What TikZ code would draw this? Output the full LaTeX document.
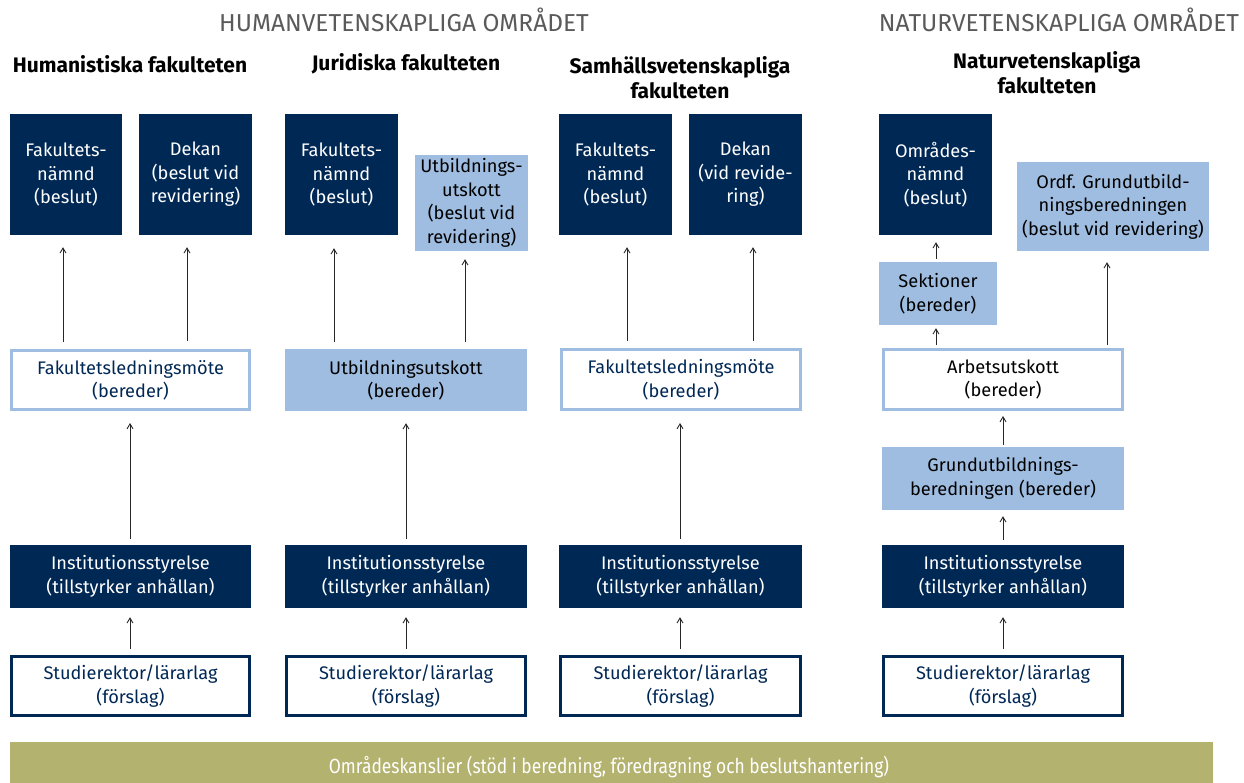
\documentclass[tikz,border=0pt]{standalone}
\usepackage{fontspec}
\setmainfont{Fira Sans}
\newfontfamily\condfont[FakeStretch=0.85]{Fira Sans}
\usetikzlibrary{arrows.meta}
\definecolor{navy}{RGB}{0,40,85}
\definecolor{lblue}{RGB}{159,189,224}
\definecolor{olive}{RGB}{179,178,111}
\definecolor{hgray}{RGB}{90,90,90}
\begin{document}
\begin{tikzpicture}[x=1pt,y=-1pt,
  box/.style={inner sep=0pt, align=center, font=\fontsize{18.2}{23.5}\selectfont},
  dk/.style={box, fill=navy, text=white},
  lb/.style={box, fill=lblue, text=black},
  wl/.style={box, draw=lblue, line width=2.6pt, fill=white, text=navy},
  wn/.style={box, draw=navy, line width=2.6pt, fill=white, text=navy},
  arr/.style={-{Straight Barb[length=5pt,width=6pt]}, line width=0.9pt, draw=black!85},
  area/.style={text=hgray, font=\fontsize{24.5}{28}\selectfont, anchor=base},
  fac/.style={text=black, font=\bfseries\fontsize{21}{25}\selectfont, align=center},
  foot/.style={fill=olive, inner sep=0pt}
]
\useasboundingbox (0,0) rectangle (1244,783);

% headers
\node[area] (hum) at (404,32) {HUMANVETENSKAPLIGA OMRÅDET};
\node[area] (nat) at (1059,32) {NATURVETENSKAPLIGA OMRÅDET};
\node[fac] (t1) at (130,64) {Humanistiska fakulteten};
\node[fac] (t2) at (406,64) {Juridiska fakulteten};
\node[fac] (t3) at (680,78) {Samhällsvetenskapliga\\fakulteten};
\node[fac] (t4) at (1047,73) {Naturvetenskapliga\\fakulteten};

% column 1
\node[dk, minimum width=112pt, minimum height=121pt] (fn1) at (66,174.5) {Fakultets-\\nämnd\\(beslut)};
\node[dk, minimum width=113pt, minimum height=121pt] (dk1) at (195.5,174.5) {Dekan\\(beslut vid\\revidering)};
\node[wl, minimum width=238.4pt, minimum height=59.4pt] (fl1) at (130.5,380) {Fakultetsledningsmöte\\(bereder)};
\node[dk, minimum width=241pt, minimum height=63pt] (is1) at (130.5,576.5) {Institutionsstyrelse\\(tillstyrker anhållan)};
\node[wn, minimum width=238.4pt, minimum height=59.4pt] (sr1) at (130.5,686) {Studierektor/lärarlag\\(förslag)};

% column 2
\node[dk, minimum width=113pt, minimum height=121pt] (fn2) at (341.5,174.5) {Fakultets-\\nämnd\\(beslut)};
\node[lb, minimum width=113pt, minimum height=96pt] (uu2) at (471.5,203) {Utbildnings-\\utskott\\(beslut vid\\revidering)};
\node[lb, minimum width=242pt, minimum height=62pt] (ub2) at (406,380) {Utbildningsutskott\\(bereder)};
\node[dk, minimum width=242pt, minimum height=63pt] (is2) at (406,576.5) {Institutionsstyrelse\\(tillstyrker anhållan)};
\node[wn, minimum width=239.4pt, minimum height=59.4pt] (sr2) at (406,686) {Studierektor/lärarlag\\(förslag)};

% column 3
\node[dk, minimum width=113pt, minimum height=121pt] (fn3) at (615.5,174.5) {Fakultets-\\nämnd\\(beslut)};
\node[dk, minimum width=113pt, minimum height=121pt] (dk3) at (745.5,174.5) {Dekan\\(vid revide-\\ring)};
\node[wl, minimum width=239.4pt, minimum height=60.4pt] (fl3) at (681,379.5) {Fakultetsledningsmöte\\(bereder)};
\node[dk, minimum width=243pt, minimum height=63pt] (is3) at (680.5,576.5) {Institutionsstyrelse\\(tillstyrker anhållan)};
\node[wn, minimum width=240.4pt, minimum height=59.4pt] (sr3) at (680.5,686) {Studierektor/lärarlag\\(förslag)};

% column 4
\node[dk, minimum width=113pt, minimum height=121pt] (on4) at (935.5,174.5) {Områdes-\\nämnd\\(beslut)};
\node[lb, minimum width=192pt, minimum height=89pt] (ord4) at (1113,206.5) {Ordf. Grundutbild-\\ningsberedningen\\(beslut vid revidering)};
\node[lb, minimum width=118pt, minimum height=63pt] (sek4) at (938,293.5) {Sektioner\\(bereder)};
\node[wl, minimum width=239.4pt, minimum height=60.4pt, text=black] (au4) at (1003,379.5) {Arbetsutskott\\(bereder)};
\node[lb, minimum width=242pt, minimum height=63pt] (gb4) at (1003,478.5) {Grundutbildnings-\\beredningen (bereder)};
\node[dk, minimum width=242pt, minimum height=63pt] (is4) at (1003,576.5) {Institutionsstyrelse\\(tillstyrker anhållan)};
\node[wn, minimum width=239.4pt, minimum height=59.4pt] (sr4) at (1003,686) {Studierektor/lärarlag\\(förslag)};

% footer
\node[foot, minimum width=1203pt, minimum height=41pt] (ft) at (611.5,762.5) {};
\node[text=white, font=\condfont\fontsize{20.5}{24}\selectfont] (ftt) at (609,767) {Områdeskanslier (stöd i beredning, föredragning och beslutshantering)};

% arrows column 1
\draw[arr, shorten <=7pt, shorten >=12pt] ([xshift=-67.5pt]fl1.north) -- ([xshift=-3pt]fn1.south);
\draw[arr, shorten <=8pt, shorten >=12pt] ([xshift=56.5pt]fl1.north) -- ([xshift=-8.5pt]dk1.south);
\draw[arr, shorten <=6pt, shorten >=12pt] ([xshift=-0.5pt]is1.north) -- ([xshift=-0.5pt]fl1.south);
\draw[arr, shorten <=6pt, shorten >=9pt] ([xshift=-0.5pt]sr1.north) -- ([xshift=-0.5pt]is1.south);
% arrows column 2
\draw[arr, shorten <=7pt, shorten >=13pt] ([xshift=-72pt]ub2.north) -- ([xshift=-7.5pt]fn2.south);
\draw[arr, shorten <=7pt, shorten >=8pt] ([xshift=59pt]ub2.north) -- ([xshift=-6.5pt]uu2.south);
\draw[arr, shorten <=6pt, shorten >=12pt] (is2.north) -- (ub2.south);
\draw[arr, shorten <=6pt, shorten >=9pt] (sr2.north) -- (is2.south);
% arrows column 3
\draw[arr, shorten <=7pt, shorten >=12pt] ([xshift=-54pt]fl3.north) -- ([xshift=11.5pt]fn3.south);
\draw[arr, shorten <=7pt, shorten >=12pt] ([xshift=72pt]fl3.north) -- ([xshift=7.5pt]dk3.south);
\draw[arr, shorten <=6pt, shorten >=12pt] ([xshift=-0.5pt]is3.north) -- ([xshift=-1pt]fl3.south);
\draw[arr, shorten <=6pt, shorten >=9pt] ([xshift=-0.5pt]sr3.north) -- ([xshift=-0.5pt]is3.south);
% arrows column 4
\draw[arr, shorten <=3pt, shorten >=7pt] ([xshift=-2pt]sek4.north) -- ([xshift=0.5pt]on4.south);
\draw[arr, shorten <=3pt, shorten >=3pt] ([xshift=-67pt]au4.north) -- ([xshift=-2pt]sek4.south);
\draw[arr, shorten <=3pt, shorten >=11pt] ([xshift=104pt]au4.north) -- ([xshift=-6pt]ord4.south);
\draw[arr, shorten <=2pt, shorten >=5pt] (gb4.north) -- (au4.south);
\draw[arr, shorten <=5pt, shorten >=6pt] (is4.north) -- (gb4.south);
\draw[arr, shorten <=6pt, shorten >=9pt] (sr4.north) -- (is4.south);
\end{tikzpicture}
\end{document}
